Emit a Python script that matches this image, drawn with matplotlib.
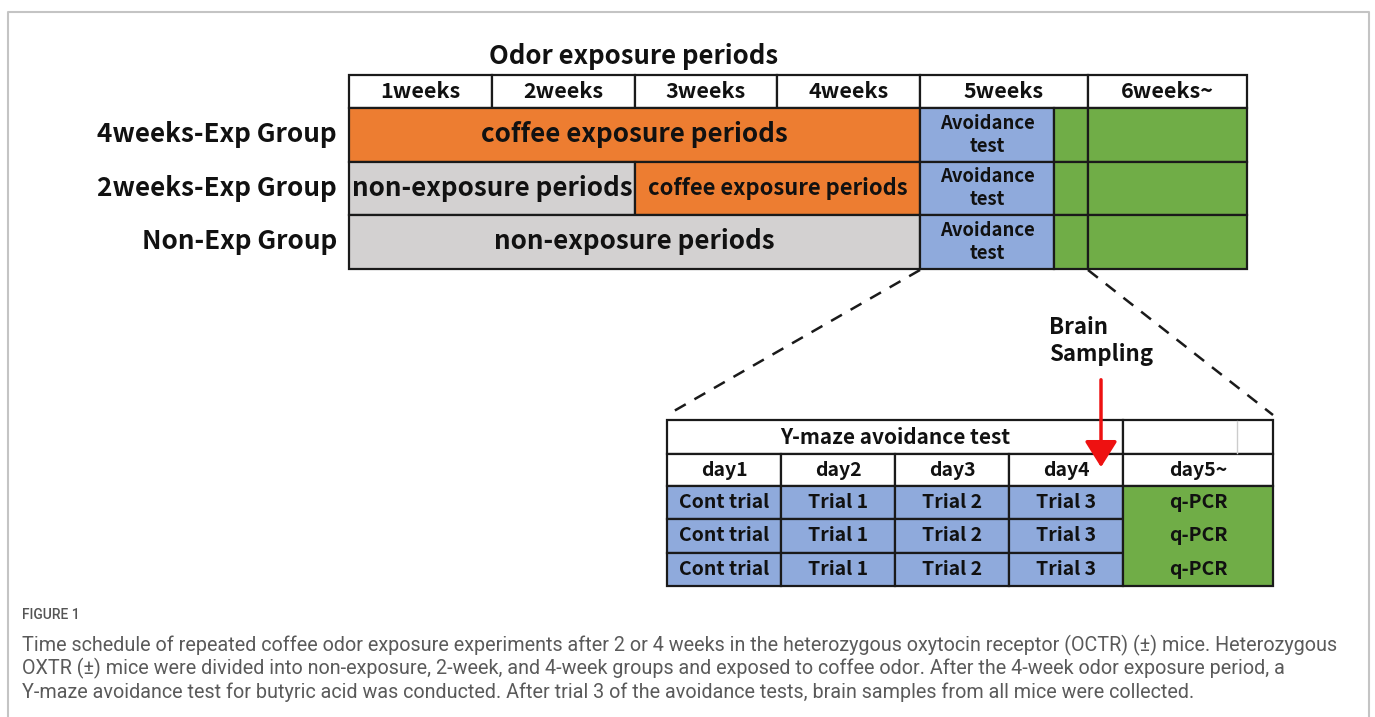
import numpy as np
import matplotlib
matplotlib.use("Agg")
import matplotlib.pyplot as plt
from matplotlib.patches import Rectangle, FancyArrowPatch

plt.rcParams['font.family'] = ['Noto Sans CJK JP', 'DejaVu Sans']

# ---- data ----
week_labels = ["1weeks", "2weeks", "3weeks", "4weeks", "5weeks", "6weeks~"]
group_names = ["4weeks-Exp Group", "2weeks-Exp Group", "Non-Exp Group"]
# schedule per group, in weeks: (start, end, kind)
seg_start = [[0, 4, 4.8, 5], [0, 2, 4, 4.8, 5], [0, 4, 4.8, 5]]
seg_end = [[4, 4.8, 5, 6], [2, 4, 4.8, 5, 6], [4, 4.8, 5, 6]]
seg_kind = [["coffee", "avoid", "sample", "after"],
            ["none", "coffee", "avoid", "sample", "after"],
            ["none", "avoid", "sample", "after"]]
kind_text = {"coffee": "coffee exposure periods", "none": "non-exposure periods",
             "avoid": "Avoidance\ntest", "sample": "", "after": ""}

day_labels = ["day1", "day2", "day3", "day4", "day5~"]
trial_labels = ["Cont trial", "Trial 1", "Trial 2", "Trial 3"]
n_mice = 3
after_label = "q-PCR"

caption_title = "FIGURE 1"
caption_lines = [
    "Time schedule of repeated coffee odor exposure experiments after 2 or 4 weeks in the heterozygous oxytocin receptor (OCTR) (\u00b1) mice. Heterozygous",
    "OXTR (\u00b1) mice were divided into non-exposure, 2-week, and 4-week groups and exposed to coffee odor. After the 4-week odor exposure period, a",
    "Y-maze avoidance test for butyric acid was conducted. After trial 3 of the avoidance tests, brain samples from all mice were collected.",
]

colors = {"coffee": "#ED7D31", "none": "#D3D1D1", "avoid": "#8FAADC",
          "sample": "#70AD47", "after": "#70AD47"}
EDGE = "#1a1a1a"

fig = plt.figure(figsize=(13.75, 7.17), dpi=100)
ax = fig.add_axes([0, 0, 1, 1])
ax.set_xlim(0, 1375)
ax.set_ylim(717, 0)
ax.axis("off")

# outer frame
ax.plot([8, 8, 1369, 1369], [720, 12, 12, 720], color="#c4c4c4", lw=1.5)


def cell(x0, x1, y0, y1, fc, text="", fs=14, weight="bold", lw=1.6, ls=1.05):
    ax.add_patch(Rectangle((x0, y0), x1 - x0, y1 - y0, facecolor=fc,
                           edgecolor=EDGE, lw=lw))
    if text:
        ax.text((x0 + x1) / 2, (y0 + y1) / 2, text, ha="center", va="center",
                fontsize=fs, fontweight=weight, color="#111111", linespacing=ls)


# ---- top schedule table ----
week_edges = [349, 492, 635, 777, 920, 1088, 1247]
to_px = lambda w: np.interp(w, np.arange(len(week_edges)), week_edges)
head_y0, head_y1 = 75, 108
row_h = 53.5

ax.text(634, 56, "Odor exposure periods", ha="center", va="center",
        fontsize=18.5, fontweight="bold", color="#111111")
for i, lab in enumerate(week_labels):
    cell(week_edges[i], week_edges[i + 1], head_y0, head_y1, "white", lab, fs=15.5)

for g, name in enumerate(group_names):
    y0 = head_y1 + g * row_h
    y1 = y0 + row_h
    ax.text(337, (y0 + y1) / 2, name, ha="right", va="center",
            fontsize=18.8, fontweight="bold", color="#111111")
    for s, e, k in zip(seg_start[g], seg_end[g], seg_kind[g]):
        if k == "avoid":
            cell(to_px(s), to_px(e), y0, y1, colors[k], kind_text[k], fs=13.3, ls=1.25)
            continue
        fs = 18.7
        if k == "coffee" and (e - s) < 4:
            fs = 15.8
        cell(to_px(s), to_px(e), y0, y1, colors[k], kind_text[k], fs=fs)

# ---- zoom lines ----
tab_x0, tab_x1 = 667, 1273
ax.plot([to_px(4), tab_x0], [270, 415], ls=(0, (5, 4)), color=EDGE, lw=1.8)
ax.plot([to_px(5), tab_x1], [270, 415], ls=(0, (5, 4)), color=EDGE, lw=1.8)

# ---- bottom Y-maze table ----
day_edges = [667, 781, 895, 1009, 1123, 1273]
cell(day_edges[0], day_edges[4], 420, 454, "white", "Y-maze avoidance test", fs=15)
cell(day_edges[4], day_edges[5], 420, 454, "white")
ax.plot([1237, 1237], [421, 453], color="#cccccc", lw=1)
for i, lab in enumerate(day_labels):
    cell(day_edges[i], day_edges[i + 1], 454, 486, "white", lab, fs=14)
trial_h = 33.3
for m in range(n_mice):
    y0 = 486 + m * trial_h
    for i, lab in enumerate(trial_labels):
        cell(day_edges[i], day_edges[i + 1], y0, y0 + trial_h, colors["avoid"], lab, fs=14)
cell(day_edges[4], day_edges[5], 486, 486 + n_mice * trial_h, colors["after"])
for m in range(n_mice):
    ax.text((day_edges[4] + day_edges[5]) / 2, 486 + (m + 0.5) * trial_h, after_label,
            ha="center", va="center", fontsize=14, fontweight="bold", color="#111111")

# brain sampling arrow
ax.text(1049, 341, "Brain\nSampling", ha="left", va="center", fontsize=16,
        fontweight="bold", color="#111111", linespacing=1.2)
ax.add_patch(FancyArrowPatch((1101, 377), (1101, 470), arrowstyle="-|>,head_length=8,head_width=5",
                             color="#ee1111", lw=2.5, mutation_scale=2))

# ---- caption ----
cap_font = ['Roboto', 'DejaVu Sans']
ax.text(22, 615, caption_title, ha="left", va="center", fontsize=10,
        color="#555555", family=cap_font, fontweight="medium")
for i, line in enumerate(caption_lines):
    ax.text(22, 645 + i * 23.7, line, ha="left", va="center", fontsize=14.2,
            color="#5a5a5a", family=cap_font)

fig.savefig("out.png", dpi=100)
